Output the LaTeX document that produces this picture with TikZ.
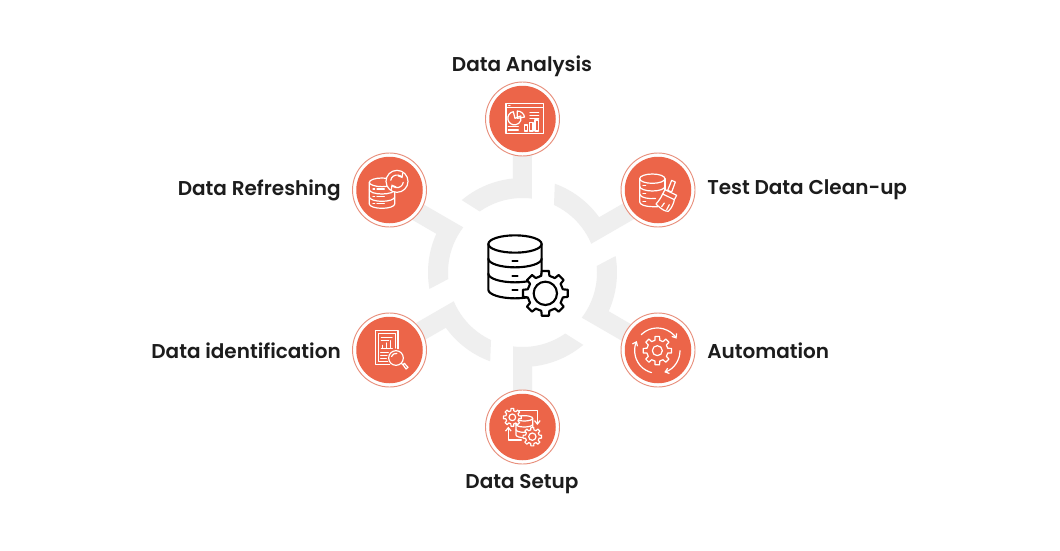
\documentclass[tikz,border=0pt]{standalone}
\usepackage{fontspec}
\setmainfont{Poppins}[BoldFont={Poppins SemiBold}]
\definecolor{disc}{HTML}{EC6549}
\definecolor{ringc}{HTML}{E88F7C}
\definecolor{wheel}{HTML}{EFEFEF}
\definecolor{ink}{HTML}{1C1C1C}
\newcommand{\cogwheel}[6]{% x y R r hole style
  \draw[#6] (#1,#2) ++(-13:#4)
    \foreach \a in {0,45,...,315} { -- ++(0,0) -- ($(#1,#2)+(\a-13:#4)$) -- ($(#1,#2)+(\a-9:#3)$) -- ($(#1,#2)+(\a+9:#3)$) -- ($(#1,#2)+(\a+13:#4)$) } -- cycle;
  \draw[#6] (#1,#2) circle[radius=#5];
}
\newcommand{\dbstack}[8]{% cx top rx ry y1 y2 ybottom style
  \draw[#8] (#1,#2) ellipse[x radius=#3,y radius=#4];
  \draw[#8] (#1-#3,#2) -- (#1-#3,#7) arc[start angle=180,end angle=0,x radius=#3,y radius=#4] -- (#1+#3,#2);
  \draw[#8] (#1-#3,#5) arc[start angle=180,end angle=0,x radius=#3,y radius=#4];
  \draw[#8] (#1-#3,#6) arc[start angle=180,end angle=0,x radius=#3,y radius=#4];
}
\tikzset{
  discnode/.style={circle,fill=disc,minimum size=66.5*0.75pt,inner sep=0pt,draw=none},
  ringnode/.style={circle,draw=ringc,line width=.7pt,minimum size=74*0.75pt,inner sep=0pt,fill=white},
  lab/.style={text=ink,font=\bfseries\fontsize{15pt}{18pt}\selectfont,inner sep=0pt},
  ico/.style={draw=white,line width=.9pt,line cap=round,line join=round},
  blk/.style={draw=black,line width=1.6pt,line join=round,line cap=round},
  tip/.style={-{Straight Barb[length=2.6pt,width=4.2pt]}},
}
\usetikzlibrary{calc,arrows.meta}
\begin{document}
\begin{tikzpicture}[x=.75pt,y=.75pt,yscale=-1]
\useasboundingbox (0,0) rectangle (1060,550);
\fill[white] (0,0) rectangle (1060,550);
% grey wheel
\foreach \k in {0,60,...,300}{
  \fill[wheel,shift={(522.5,272.5)},rotate=\k]
    (-130:94.5) arc[start angle=-130,end angle=-95.8,radius=94.5]
    -- (-9.5,-125) -- (9.5,-125) -- (-82.7:74.5)
    arc[start angle=-82.7,end angle=-125,radius=74.5] -- cycle;
}
% discs
\foreach \n/\x/\y in {a/522.5/119,b/658/190,c/658/350,d/522.5/427,e/389.5/350,f/389.5/190}{
  \node[ringnode] (ring\n) at (\x,\y) {};
  \node[discnode] (disc\n) at (\x,\y) {};
}
% labels
\node[lab] (la) at (522,66) {Data Analysis};
\node[lab,anchor=west] (lb) at (707,190) {Test Data Clean-up};
\node[lab,anchor=west] (lc) at (707,351) {Automation};
\node[lab] (ld) at (522,484) {Data Setup};
\node[lab,anchor=east] (le) at (341,351) {Data identification};
\node[lab,anchor=east] (lf) at (341,190) {Data Refreshing};
% centre icon
\begin{scope}[shift={(400,150)},scale=1/3]
  \dbstack{345}{282}{80}{26}{326}{371}{419}{blk}
  \foreach \y in {333,377,421} \draw[blk] (337,\y) -- (353,\y);
  \cogwheel{436}{430}{68}{54}{35}{blk,fill=white}
\end{scope}
% Data Analysis icon
\begin{scope}[shift={(480,75)},scale=1/3]
  \draw[ico] (78,85) rectangle (190,175);
  \draw[ico] (78,97) -- (190,97);
  \draw[ico] (86,91) -- (90,91);
  \draw[ico] (105,130) ++(-5,-20) arc[start angle=-100,end angle=-360-20,radius=20] -- (105,130) -- cycle;
  \draw[ico] (112,108) arc[start angle=-90,end angle=-10,radius=22] -- (112,130) -- cycle;
  \foreach \y in {113,122,131} \draw[ico] (150,\y) -- (176,\y);
  \foreach \y in {155,165} \draw[ico] (85,\y) -- (115,\y);
  \draw[ico] (133,168) rectangle (143,150);
  \draw[ico] (149,168) rectangle (159,143);
  \draw[ico] (165,168) rectangle (176,135);
\end{scope}
% Test Data Clean-up icon
\begin{scope}[shift={(615,148)},scale=1/3]
  \draw[ico] (112,92) ellipse[x radius=38,y radius=14];
  \draw[ico] (74,92) -- (74,162) arc[start angle=180,end angle=90,x radius=38,y radius=14] -- (128,176);
  \draw[ico] (150,92) -- (150,125);
  \draw[ico] (74,115) arc[start angle=180,end angle=0,x radius=38,y radius=14];
  \draw[ico] (74,138) arc[start angle=180,end angle=75,x radius=38,y radius=14];
  \foreach \y in {112,137,160} \draw[ico] (84,\y) -- (92,\y);
  \draw[ico] (170,97) -- (181,102) -- (170,132) -- (158,127) -- cycle;
  \draw[ico] (150,125) -- (185,142) -- (178,155) -- (143,138) -- cycle;
  \draw[ico] (143,138) .. controls (135,155) and (128,162) .. (123,168) .. controls (140,185) and (150,190) .. (160,190) .. controls (172,178) and (176,165) .. (178,155);
  \draw[ico] (140,176) -- (148,165);
  \draw[ico] (155,185) -- (163,170);
\end{scope}
% Automation icon
\begin{scope}[shift={(615,308)},scale=1/3]
  \cogwheel{127}{128}{43}{32}{15}{ico}
  \draw[ico,tip] (127,128) ++(-135:68) arc[start angle=-135,end angle=-32,radius=68];
  \draw[ico,tip] (127,128) ++(0:68) arc[start angle=0,end angle=72,radius=68];
  \draw[ico,tip] (127,128) ++(105:68) arc[start angle=105,end angle=205,radius=68];
\end{scope}
% Data Setup icon
\begin{scope}[shift={(480,385)},scale=1/3]
  \dbstack{133}{100}{25}{8}{118}{134}{150}{ico}
  \cogwheel{97}{97}{27}{20}{10}{ico,fill=disc}
  \cogwheel{157}{155}{28}{21}{11}{ico,fill=disc}
  \draw[ico,tip] (118,77) -- (172,77) -- (172,120);
  \draw[ico,tip] (124,165) -- (85,165) -- (85,125);
\end{scope}
% Data identification icon
\begin{scope}[shift={(347,308)},scale=1/3]
  \draw[ico] (153,122) -- (153,68) -- (85,68) -- (85,170) -- (128,170);
  \draw[ico] (145,120) -- (145,77) -- (94,77) -- (94,161) -- (122,161);
  \draw[ico] (103,89) -- (135,89);
  \draw[ico] (103,97) -- (125,97);
  \draw[ico] (103,122) -- (136,122);
  \draw[ico] (106,121) -- (106,112);
  \draw[ico] (118,121) -- (118,105);
  \draw[ico] (130,121) -- (130,98);
  \draw[ico] (101,134) -- (124,134);
  \draw[ico] (101,143) -- (120,143);
  \draw[ico] (101,152) -- (118,152);
  \draw[ico,fill=disc] (147,150) circle[radius=22];
  \draw[ico] (147,150) ++(200:14) arc[start angle=200,end angle=280,radius=14];
  \draw[ico] (163,166) -- (169,171);
  \draw[ico] (168,170) -- (177,183) -- (183,178) -- (172,166) -- cycle;
\end{scope}
% Data Refreshing icon
\begin{scope}[shift={(347,148)},scale=1/3]
  \dbstack{105}{103}{38}{13}{125}{147}{168}{ico}
  \foreach \y in {123,145,167}{
    \draw[ico] (78,\y) -- (83,\y);
    \draw[ico] (90,\y) -- (112,\y);
  }
  \draw[ico,fill=disc] (150,100) circle[radius=33];
  \draw[ico,tip] (150,100) ++(-170:19) arc[start angle=-170,end angle=-30,radius=19];
  \draw[ico,tip] (150,100) ++(10:19) arc[start angle=10,end angle=150,radius=19];
\end{scope}
\end{tikzpicture}
\end{document}
